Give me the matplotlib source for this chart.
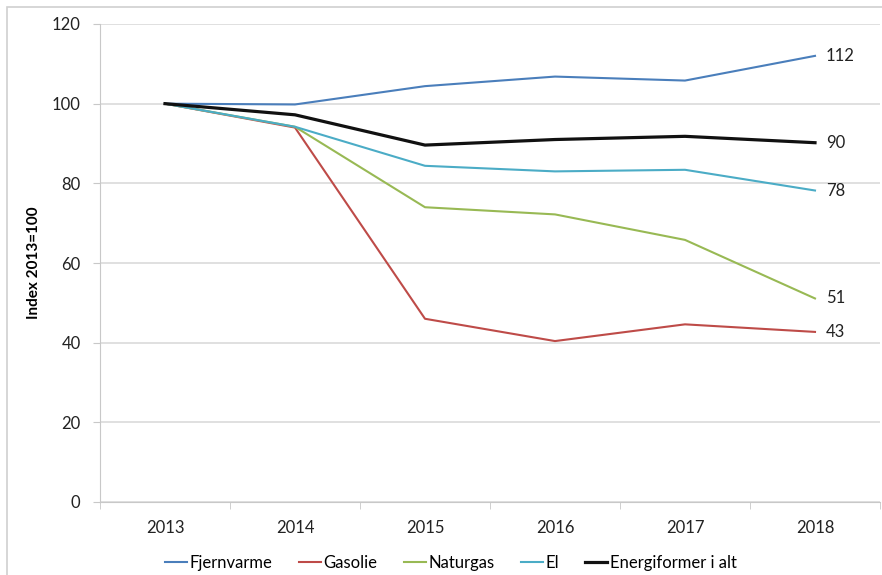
import matplotlib.pyplot as plt
from matplotlib.patches import Rectangle

years = ["2013", "2014", "2015", "2016", "2017", "2018"]
fjernvarme = [100, 99.8, 104.4, 106.8, 105.8, 112]
gasolie = [100, 94.0, 46.0, 40.4, 44.6, 42.7]
naturgas = [100, 94.2, 74.0, 72.2, 65.8, 51.1]
el = [100, 94.2, 84.4, 83.0, 83.4, 78.2]
i_alt = [100, 97.2, 89.6, 91.0, 91.8, 90.2]
end_labels = ["112", "43", "51", "78", "90"]

series = [
	("Fjernvarme", fjernvarme, "#4a7ebb", 1.5),
	("Gasolie", gasolie, "#be4b48", 1.5),
	("Naturgas", naturgas, "#98b954", 1.5),
	("El", el, "#4bacc6", 1.5),
	("Energiformer i alt", i_alt, "#111111", 2.3),
]

plt.rcParams['font.family'] = ['Lato', 'DejaVu Sans']

fig = plt.figure(figsize=(8.82, 5.75), dpi=100)
ax = fig.add_axes([100 / 882, 1 - 502 / 575, 780 / 882, 478 / 575])

# frame round the chart
fig.patches.append(Rectangle((7 / 882, -0.1), 1.2, (575 - 7) / 575 + 0.1, transform=fig.transFigure,
	fill=False, edgecolor="#d0d0d0", linewidth=1.2))

x = list(range(len(years)))
for (name, vals, col, lw), lab in zip(series, end_labels):
	ax.plot(x, vals, color=col, linewidth=lw, label=name, solid_joinstyle="round")
	ax.text(x[-1] + 0.085, vals[-1], lab, va="center", ha="left", fontsize=12, color="#222222")

ax.set_xlim(-0.5, 5.5)
ax.set_ylim(0, 120)
ax.set_yticks(range(0, 121, 20))
ax.set_xticks(x)
ax.set_xticklabels(years)
ax.set_xticks([i - 0.5 for i in range(len(years) + 1)], minor=True)
ax.tick_params(axis="x", which="major", length=0, pad=13, labelsize=12, labelcolor="#222222")
ax.tick_params(axis="x", which="minor", length=5, color="#c8c8c8")
ax.tick_params(axis="y", length=5, color="#c8c8c8", pad=9, labelsize=12, labelcolor="#222222")
ax.grid(axis="y", color="#dddddd", linewidth=1.3)
ax.set_axisbelow(True)
for s in ["top", "right"]:
	ax.spines[s].set_visible(False)
ax.spines["left"].set_color("#c8c8c8")
ax.spines["bottom"].set_color("#c8c8c8")
ax.set_ylabel("Index 2013=100", fontsize=11, fontweight="bold", labelpad=8)

ax.legend(loc="upper center", bbox_to_anchor=(0.45, -0.08), ncol=5, frameon=False,
	fontsize=12, handlelength=1.3, handletextpad=0.15, columnspacing=1.6)

fig.savefig("out.png", dpi=100)
